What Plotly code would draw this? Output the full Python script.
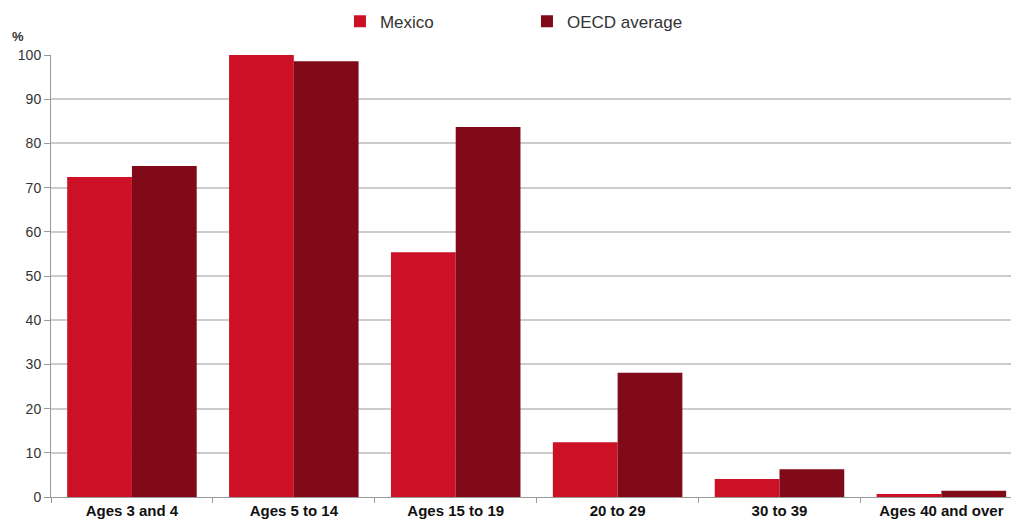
import plotly.graph_objects as go

categories = ["Ages 3 and 4", "Ages 5 to 14", "Ages 15 to 19", "20 to 29", "30 to 39", "Ages 40 and over"]
mexico = [72.4, 100.0, 55.4, 12.4, 4.1, 0.7]
oecd = [74.9, 98.6, 83.7, 28.1, 6.3, 1.4]
series_names = ["Mexico", "OECD average"]
colors = ["#CC1126", "#800A18"]
y_ticks = [0, 10, 20, 30, 40, 50, 60, 70, 80, 90, 100]

fig = go.Figure()
for name, vals, col in zip(series_names, [mexico, oecd], colors):
    fig.add_trace(go.Bar(x=categories, y=vals, name=name, marker=dict(color=col, line=dict(width=0))))

fig.update_layout(
    width=1011, height=522,
    margin=dict(l=51, r=0, t=55, b=25, autoexpand=False),
    paper_bgcolor="white", plot_bgcolor="white",
    barmode="group", bargap=0.2, bargroupgap=0,
    font=dict(family="Liberation Sans, Arial, sans-serif", color="#222"),
    legend=dict(orientation="h", x=0.301, y=0.993, yref="container", yanchor="top",
                xanchor="left", font=dict(size=17, color="#333"),
                entrywidth=142, entrywidthmode="pixels", traceorder="normal",
                itemwidth=30, bgcolor="rgba(0,0,0,0)"),
    xaxis=dict(range=[-0.5, 5.43], showline=True, linecolor="#999", linewidth=1,
               ticks="outside", tickson="boundaries", ticklen=5, tickcolor="#999",
               tickfont=dict(size=15, color="#111", family="Liberation Sans, Arial"),
               showgrid=False, fixedrange=True, automargin=False),
    yaxis=dict(range=[0, 100], tickvals=y_ticks, showline=True, linecolor="#999", linewidth=1,
               ticks="outside", ticklen=6, tickcolor="#999",
               gridcolor="#cccccc", gridwidth=1.5, automargin=False,
               tickfont=dict(size=14, color="#333"), zeroline=False),
)
fig.update_xaxes(tickvals=categories, ticktext=["<b>%s</b>" % c for c in categories])
fig.add_annotation(text="<b>%</b>", xref="paper", yref="paper", x=-0.026, y=1.063,
                   showarrow=False, font=dict(size=13, color="#333"), xanchor="right")
fig.write_html("out.html", config={"displayModeBar": False},
               post_script="document.body.style.margin='0';document.body.style.overflow='hidden';")
